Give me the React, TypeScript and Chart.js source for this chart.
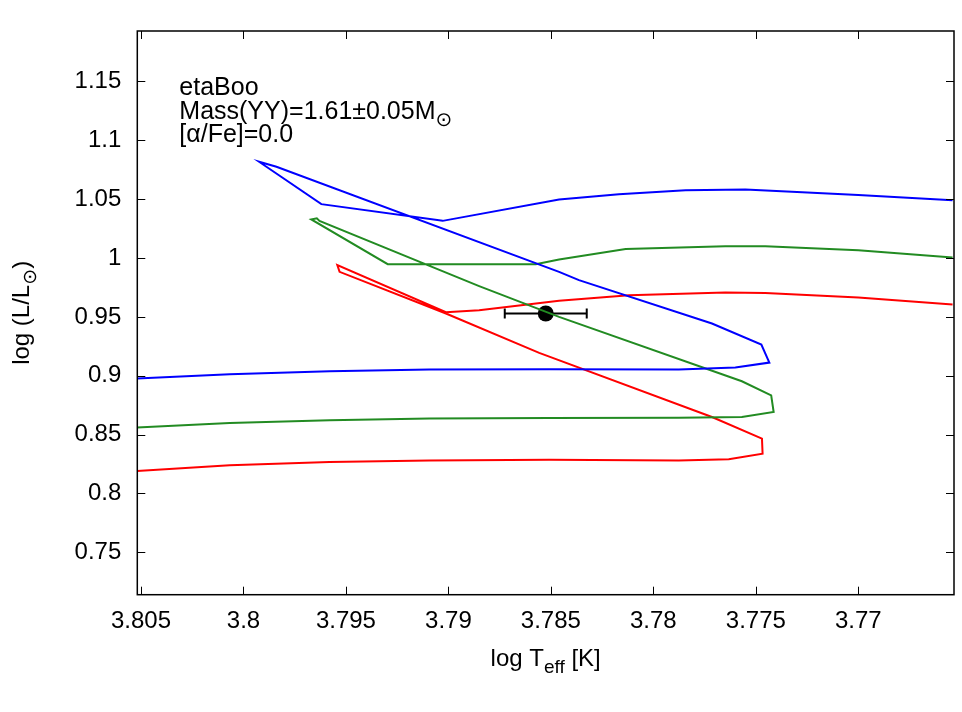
import React, { useEffect, useRef } from 'react';
import { Chart, registerables } from 'chart.js';

Chart.register(...registerables);

// Axis ranges and tick values
const xMinMax = [3.76533, 3.80518];
const yMinMax = [0.714, 1.1929];
const xTicks = [3.805, 3.8, 3.795, 3.79, 3.785, 3.78, 3.775, 3.77];
const yTicks = [0.75, 0.8, 0.85, 0.9, 0.95, 1.0, 1.05, 1.1, 1.15];

// Blue track
const blueTeff = [3.8052, 3.80067, 3.7958, 3.79093, 3.78509, 3.77876, 3.776, 3.77434, 3.77473, 3.77714, 3.78363, 3.7846, 3.79839, 3.79924, 3.7962, 3.79028, 3.7846, 3.78168, 3.77843, 3.77551, 3.77324, 3.77, 3.7654];
const blueLum = [0.8976, 0.9013, 0.9038, 0.9053, 0.9055, 0.9053, 0.907, 0.9112, 0.9265, 0.9444, 0.9812, 0.9883, 1.0776, 1.0818, 1.0458, 1.0316, 1.0498, 1.0543, 1.0577, 1.0583, 1.0563, 1.0535, 1.0492];

// Green track
const greenTeff = [3.8052, 3.80067, 3.7958, 3.79093, 3.78509, 3.77876, 3.77568, 3.77413, 3.77425, 3.77568, 3.7846, 3.7885, 3.79629, 3.79642, 3.79669, 3.79296, 3.78574, 3.7846, 3.78135, 3.77649, 3.77454, 3.77, 3.7654];
const greenLum = [0.856, 0.8599, 0.8622, 0.8636, 0.8641, 0.8643, 0.865, 0.8692, 0.8834, 0.8953, 0.95, 0.9761, 1.0316, 1.0337, 1.0328, 0.9948, 0.9948, 0.9988, 1.0076, 1.0101, 1.0101, 1.0067, 1.0005];

// Red track
const redTeff = [3.8052, 3.80067, 3.7958, 3.79093, 3.78509, 3.77876, 3.77632, 3.77467, 3.7747, 3.77714, 3.78557, 3.79012, 3.79531, 3.79542, 3.79012, 3.7885, 3.7846, 3.78119, 3.77649, 3.77454, 3.77, 3.7654];
const redLum = [0.819, 0.8239, 0.8267, 0.8281, 0.8287, 0.8281, 0.829, 0.8338, 0.8466, 0.865, 0.9194, 0.9529, 0.9883, 0.994, 0.954, 0.9557, 0.9638, 0.9684, 0.9707, 0.9704, 0.9665, 0.9605];

// Observed star
const starTeff = [3.78525];
const starLum = [0.9529];
const starTeffErr = [0.002];

const FONT = '"Liberation Sans", Arial, "DejaVu Sans", sans-serif';
const SIZE = 24;

type Part = { t: string; sub?: boolean };

function drawRich(ctx: CanvasRenderingContext2D, parts: Part[], x: number, y: number, align: 'left' | 'center', size: number = SIZE) {
  const mainFont = `${size}px ${FONT}`;
  const subFont = `${Math.round(size * 0.8)}px ${FONT}`;
  const widths = parts.map((p) => {
    ctx.font = p.sub ? subFont : mainFont;
    return ctx.measureText(p.t).width;
  });
  const total = widths.reduce((a, b) => a + b, 0);
  let cx = align === 'center' ? x - total / 2 : x;
  ctx.textAlign = 'left';
  ctx.textBaseline = 'alphabetic';
  parts.forEach((p, i) => {
    ctx.font = p.sub ? subFont : mainFont;
    ctx.fillText(p.t, cx, p.sub ? y + 7 : y);
    cx += widths[i];
  });
}

const fmt = (v: number) => String(Number(v.toFixed(3)));

const gnuplotPlugin = {
  id: 'gnuplotFrame',
  afterDraw(chart: any) {
    const { ctx, chartArea: a, scales } = chart;
    const x = scales.x;
    const y = scales.y;
    ctx.save();
    ctx.strokeStyle = '#000';
    ctx.lineWidth = 1;
    ctx.beginPath();
    xTicks.forEach((v) => {
      const px = Math.round(x.getPixelForValue(v)) + 0.5;
      ctx.moveTo(px, a.bottom);
      ctx.lineTo(px, a.bottom - 8);
      ctx.moveTo(px, a.top);
      ctx.lineTo(px, a.top + 8);
    });
    yTicks.forEach((v) => {
      const py = Math.round(y.getPixelForValue(v)) + 0.5;
      ctx.moveTo(a.left, py);
      ctx.lineTo(a.left + 8, py);
      ctx.moveTo(a.right, py);
      ctx.lineTo(a.right - 8, py);
    });
    ctx.stroke();
    ctx.lineWidth = 1.5;
    ctx.strokeRect(a.left, a.top, a.right - a.left, a.bottom - a.top);

    ctx.fillStyle = '#000';
    // x-axis title
    drawRich(ctx, [{ t: 'log T' }, { t: 'eff', sub: true }, { t: ' [K]' }], (a.left + a.right) / 2, 666, 'center');
    // y-axis title
    ctx.save();
    ctx.translate(29, (a.top + a.bottom) / 2);
    ctx.rotate(-Math.PI / 2);
    drawRich(ctx, [{ t: 'log (L/L' }, { t: '⊙', sub: true }, { t: ')' }], 0, 0, 'center');
    ctx.restore();
    // annotation
    const lx = a.left + 42;
    drawRich(ctx, [{ t: 'etaBoo' }], lx, a.top + 64, 'left', 25);
    drawRich(ctx, [{ t: 'Mass(YY)=1.61±0.05M' }, { t: '⊙', sub: true }], lx, a.top + 87.5, 'left', 25);
    drawRich(ctx, [{ t: '[α/Fe]=0.0' }], lx, a.top + 111, 'left', 25);
    ctx.restore();
  },
};

function track(teff: number[], lum: number[], color: string) {
  return {
    data: teff.map((t, i) => ({ x: t, y: lum[i] })),
    showLine: true,
    borderColor: color,
    backgroundColor: color,
    borderWidth: 2,
    pointRadius: 0,
    tension: 0,
  };
}

export default function App() {
  const ref = useRef<HTMLCanvasElement | null>(null);
  useEffect(() => {
    if (!ref.current) return;
    const chart = new Chart(ref.current, {
      type: 'scatter',
      data: {
        datasets: [
          track(blueTeff, blueLum, '#0000ff'),
          track(greenTeff, greenLum, '#228b22'),
          track(redTeff, redLum, '#ff0000'),
          // error bar
          {
            data: [
              { x: starTeff[0] + starTeffErr[0], y: starLum[0] },
              { x: starTeff[0] - starTeffErr[0], y: starLum[0] },
            ],
            showLine: true,
            borderColor: '#000',
            backgroundColor: '#000',
            borderWidth: 2,
            pointStyle: 'line',
            rotation: 90,
            pointRadius: 5,
            pointBorderWidth: 2,
            pointBorderColor: '#000',
          } as any,
          {
            data: starTeff.map((t, i) => ({ x: t, y: starLum[i] })),
            showLine: false,
            pointRadius: 8,
            pointBackgroundColor: '#000',
            pointBorderColor: '#000',
            borderWidth: 0,
          } as any,
        ],
      },
      options: {
        animation: false,
        responsive: false,
        layout: { padding: { top: 31, right: 6.7, bottom: 0, left: 0 } },
        plugins: { legend: { display: false }, tooltip: { enabled: false } },
        scales: {
          x: {
            type: 'linear',
            reverse: true,
            min: xMinMax[0],
            max: xMinMax[1],
            grid: { display: false, drawTicks: false },
            border: { display: false },
            afterBuildTicks: (s: any) => {
              s.ticks = xTicks.map((v) => ({ value: v }));
            },
            afterFit: (s: any) => {
              s.height = 117.3;
            },
            ticks: {
              padding: 12,
              color: '#000',
              font: { family: FONT, size: SIZE },
              maxRotation: 0,
              autoSkip: false,
              callback: (v: any) => fmt(Number(v)),
            },
          },
          y: {
            type: 'linear',
            min: yMinMax[0],
            max: yMinMax[1],
            grid: { display: false, drawTicks: false },
            border: { display: false },
            afterBuildTicks: (s: any) => {
              s.ticks = yTicks.map((v) => ({ value: v }));
            },
            afterFit: (s: any) => {
              s.width = 137.3;
            },
            ticks: {
              padding: 16,
              color: '#000',
              font: { family: FONT, size: SIZE },
              autoSkip: false,
              callback: (v: any) => fmt(Number(v)),
            },
          },
        },
      },
      plugins: [gnuplotPlugin],
    });
    return () => chart.destroy();
  }, []);
  return (
    <canvas
      ref={ref}
      width={962}
      height={712}
      style={{ position: 'absolute', left: 0, top: 0, width: 962, height: 712, display: 'block', background: '#fff' }}
    />
  );
}
